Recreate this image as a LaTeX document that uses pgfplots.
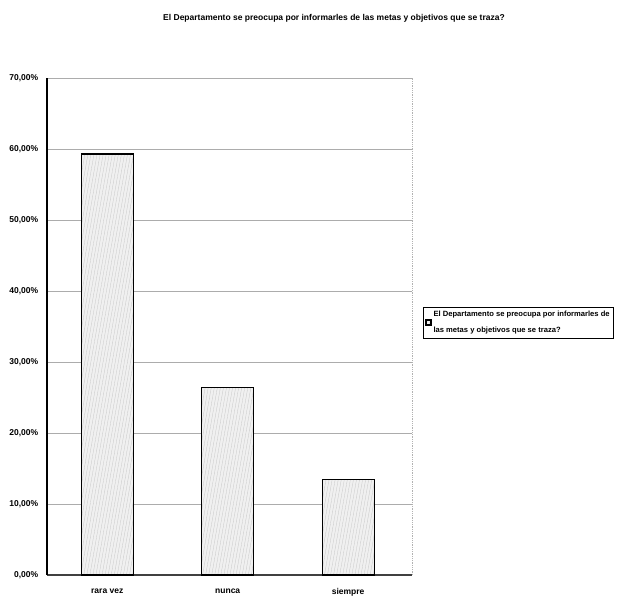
\documentclass[border=0pt]{standalone}
\usepackage{pgfplots}
\pgfplotsset{compat=1.18}
\usetikzlibrary{patterns.meta}
\usepackage{fontspec}
\setmainfont{Liberation Sans}

\begin{document}
\begin{tikzpicture}[x=1pt,y=1pt]
% page frame
\clip (0,0) rectangle (634,601);
\fill[white] (0,0) rectangle (634,601);

% chart title
\node[font=\fontsize{8.5}{10}\selectfont\bfseries] at (334,583)
  {El Departamento se preocupa por informarles de las metas y objetivos que se traza?};

\begin{axis}[
  at={(47pt,26pt)}, anchor=south west,
  width=365pt, height=497pt, scale only axis,
  ymin=0, ymax=70, ytick={0,10,...,70},
  xmin=-0.5, xmax=2.53,
  xtick={0,1,2}, xticklabels={rara vez, nunca, siempre},
  minor xtick={0.5,1.5,2.5},
  xtick style={draw=none},
  minor tick length=3pt,
  minor x tick style={black, thin},
  tick align=outside,
  ytick style={draw=none},
  axis x line*=bottom, axis y line*=left,
  axis line style={black, line width=1.1pt, -},
  x axis line style={gray!50!black},
  ymajorgrids, grid style={gray!65, line width=0.9pt},
  yticklabel={\pgfmathprintnumber[fixed, fixed zerofill, precision=2, use comma]{\tick}\%},
  /pgf/number format/assume math mode=true,
  ticklabel style={font=\fontsize{8.5}{10}\selectfont\bfseries},
  yticklabel style={xshift=-1pt},
  xticklabel style={yshift=-6pt},
  clip=false,
  legend style={
    at={(1.03,0.54)}, anchor=north west,
    draw=black, line width=0.8pt,
    font=\fontsize{7.6}{16}\selectfont\bfseries,
    nodes={align=left}, inner sep=2pt,
    legend cell align=left,
  },
  legend image code/.code={%
    \draw[#1, line width=1.2pt] (0pt,-2.5pt) rectangle (5pt,2.5pt);},
]
% faint right border of the plot area
\draw[gray!60, densely dotted, line width=0.8pt] (rel axis cs:1,0) -- (rel axis cs:1,1);

\addplot[ybar, bar width=0.43, draw=black, line width=1.1pt,
  fill=gray!12,
  postaction={pattern={Lines[angle=80, distance=3pt, line width=0.3pt]}, pattern color=gray!45}]
  coordinates {(0,59.3) (1,26.4) (2,13.4)};
\addlegendentry{El Departamento se preocupa por informarles de\\las metas y objetivos que se traza?}
\end{axis}
\end{tikzpicture}
\end{document}
